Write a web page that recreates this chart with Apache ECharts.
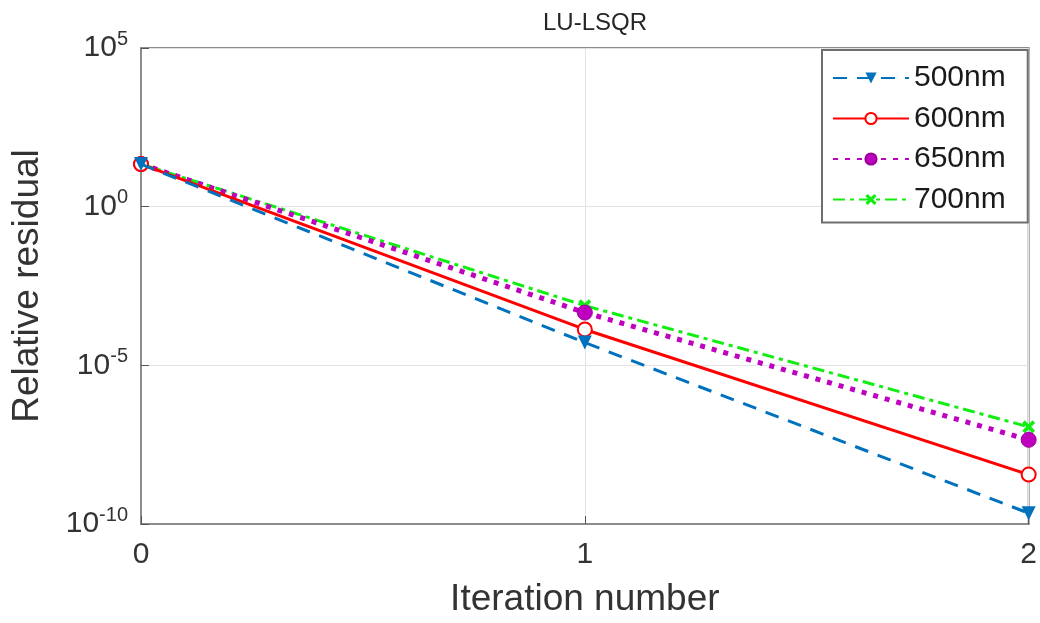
<!DOCTYPE html>
<html>
<head>
<meta charset="utf-8">
<script src="https://cdn.jsdelivr.net/npm/echarts@6/dist/echarts.min.js"></script>
<style>html,body{margin:0;padding:0;background:#fff;}#c{width:1040px;height:623px;}</style>
</head>
<body>
<div id="c"></div>
<script>
var iterations = [0, 1, 2];
var seriesNames = ['500nm', '600nm', '650nm', '700nm'];
var res500 = [22, 5.2e-5, 2.2e-10];
var res600 = [22, 1.35e-4, 3.6e-9];
var res650 = [22, 4.6e-4, 4.5e-8];
var res700 = [22, 7.6e-4, 1.15e-7];

var chart = echarts.init(document.getElementById('c'), null, {renderer: 'canvas'});
var FONT = 'Liberation Sans, Arial, sans-serif';
function pts(arr) { return iterations.map(function (x, i) { return [x, arr[i]]; }); }
var xSym = 'path://M0,2L2,0L5,3L8,0L10,2L7,5L10,8L8,10L5,7L2,10L0,8L3,5Z';

var option = {
  backgroundColor: '#ffffff',
  animation: false,
  title: {
    text: 'LU-LSQR', left: 590, top: 6, textAlign: 'center',
    textStyle: {fontFamily: FONT, fontSize: 24, fontWeight: 'normal', color: '#262626'}
  },
  grid: {left: 141, right: 6, top: 48, bottom: 96, show: true, borderColor: '#8c8c8c', borderWidth: 2, backgroundColor: '#fff'},
  legend: {
    data: seriesNames, orient: 'vertical', left: 822, top: 50,
    backgroundColor: '#fff', borderColor: '#6e6e6e', borderWidth: 2,
    padding: [13, 22, 8, 10], itemGap: 10.5, itemWidth: 76, itemHeight: 14,
    textStyle: {fontFamily: FONT, fontSize: 30, lineHeight: 30, color: '#1a1a1a', padding: [0, 0, 0, 0]}
  },
  xAxis: {
    type: 'value', min: 0, max: 2, interval: 1,
    name: 'Iteration number', nameLocation: 'middle', nameGap: 57,
    nameTextStyle: {fontFamily: FONT, fontSize: 37, color: '#333'},
    axisLine: {show: true, lineStyle: {color: '#8c8c8c', width: 2}},
    axisTick: {show: true, inside: true, length: 8, lineStyle: {color: '#555'}},
    axisLabel: {fontFamily: FONT, fontSize: 30, color: '#333', margin: 16},
    splitLine: {show: true, lineStyle: {color: '#e3e3e3', width: 1}}
  },
  yAxis: {
    type: 'log', logBase: 10, min: 1e-10, max: 1e5, interval: 5,
    name: 'Relative residual', nameLocation: 'middle', nameGap: 95,
    nameTextStyle: {fontFamily: FONT, fontSize: 37, color: '#333'},
    axisLine: {show: true, lineStyle: {color: '#8c8c8c', width: 2}},
    axisTick: {show: true, inside: true, length: 8, lineStyle: {color: '#555'}},
    axisLabel: {
      margin: 13,
      formatter: function (v) { return '{b|10}{s|' + Math.round(Math.log10(v)) + '}'; },
      rich: {
        b: {fontFamily: FONT, fontSize: 30, color: '#333'},
        s: {fontFamily: FONT, fontSize: 20, color: '#333', padding: [0, 0, 18, 0]}
      }
    },
    splitLine: {show: true, lineStyle: {color: '#e3e3e3', width: 1}}
  },
  series: [
    {name: '500nm', type: 'line', data: pts(res500), symbol: 'triangle', symbolRotate: 180, symbolSize: 14,
      itemStyle: {color: '#0072BD'}, lineStyle: {color: '#0072BD', width: 3, type: [14, 10]}, z: 5},
    {name: '600nm', type: 'line', data: pts(res600), symbol: 'emptyCircle', symbolSize: 14,
      itemStyle: {color: '#ff0000', borderWidth: 2}, lineStyle: {color: '#ff0000', width: 3, type: 'solid'}, z: 4},
    {name: '650nm', type: 'line', data: pts(res650), symbol: 'circle', symbolSize: 15,
      itemStyle: {color: '#bf00bf', borderColor: '#9a009a', borderWidth: 1}, lineStyle: {color: '#bf00bf', width: 5, type: [5, 7]}, z: 3},
    {name: '700nm', type: 'line', data: pts(res700), symbol: xSym, symbolSize: 13,
      itemStyle: {color: '#11ee11'}, lineStyle: {color: '#11ee11', width: 3, type: [12, 5, 4, 5]}, z: 2}
  ]
};
chart.setOption(option);
</script>
</body>
</html>
